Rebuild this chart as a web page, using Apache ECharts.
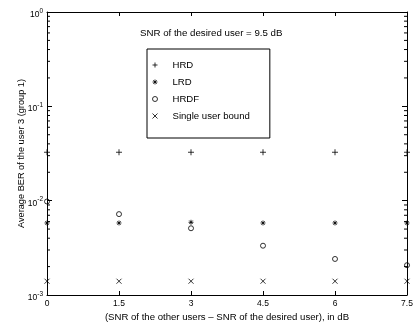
<!DOCTYPE html>
<html>
<head>
<meta charset="utf-8">
<script src="https://cdn.jsdelivr.net/npm/echarts@6/dist/echarts.min.js"></script>
<style>
  html, body { margin: 0; padding: 0; background: #fff; }
  #chart { width: 417px; height: 323px; }
</style>
</head>
<body>
<div id="chart"></div>
<script>
// x positions: SNR difference in dB
const snrDiff = [0, 1.5, 3, 4.5, 6, 7.5];
const hrd = [0.0326, 0.0326, 0.0326, 0.0326, 0.0326, 0.0326];
const lrd = [0.0058, 0.0058, 0.0059, 0.0058, 0.0058, 0.0058];
const hrdf = [0.0098, 0.0072, 0.0051, 0.00333, 0.00241, 0.00207];
const singleUser = [0.0014, 0.0014, 0.0014, 0.0014, 0.0014, 0.0014];
// log minor ticks (2..9 in every decade)
const minorTicks = [0.002, 0.003, 0.004, 0.005, 0.006, 0.007, 0.008, 0.009,
  0.02, 0.03, 0.04, 0.05, 0.06, 0.07, 0.08, 0.09,
  0.2, 0.3, 0.4, 0.5, 0.6, 0.7, 0.8, 0.9];

const font = 'Liberation Sans';
const pair = ys => snrDiff.map((x, i) => [x, ys[i]]);

const markerStyle = {
  color: 'transparent',
  borderColor: '#000',
  borderWidth: 1,
};

const chart = echarts.init(document.getElementById('chart'));

const yLabel = {
  show: true,
  margin: 4,
  padding: [5, 0, 0, 0],
  formatter: v => '{b|10}{s|' + Math.round(Math.log10(v)) + '}',
  rich: {
    b: { fontSize: 8.5, fontFamily: font, color: '#000', verticalAlign: 'middle', lineHeight: 14 },
    s: { fontSize: 6.5, fontFamily: font, color: '#000', verticalAlign: 'top' },
  },
};

const option = {
  animation: false,
  textStyle: { fontFamily: font },
  title: {
    text: 'SNR of the desired user = 9.5 dB',
    left: 140,
    top: 28,
    padding: 0,
    textStyle: { fontSize: 9.7, fontWeight: 'normal', color: '#000', fontFamily: font },
  },
  legend: {
    left: 147,
    top: 49,
    orient: 'vertical',
    padding: [10, 20, 16, 5],
    backgroundColor: '#fff',
    borderColor: '#000',
    borderWidth: 1,
    itemWidth: 5,
    itemHeight: 5,
    itemGap: 5,
    itemStyle: { borderWidth: 1 },
    textStyle: { fontSize: 9.6, fontFamily: font, color: '#000', lineHeight: 12, padding: [0, 0, 0, 10] },
    data: ['HRD', 'LRD', 'HRDF', 'Single user bound'],
  },
  grid: { left: 47, right: 10, top: 12, bottom: 28, containLabel: false, outerBoundsMode: 'none' },
  xAxis: [
    {
      type: 'value', min: 0, max: 7.5, interval: 1.5,
      name: '(SNR of the other users \u2013 SNR of the desired user), in dB',
      nameLocation: 'middle',
      nameGap: 17,
      nameMoveOverlap: false,
      nameTextStyle: { fontSize: 9.6, fontFamily: font, color: '#000' },
      axisLine: { show: true, onZero: false, lineStyle: { color: '#000', width: 1 } },
      axisTick: { show: true, inside: true, length: 4, lineStyle: { color: '#000' } },
      axisLabel: { fontSize: 8.5, fontFamily: font, color: '#000', margin: 4 },
      splitLine: { show: false },
    },
    {
      type: 'value', min: 0, max: 7.5, interval: 1.5, position: 'top',
      axisLine: { show: true, onZero: false, lineStyle: { color: '#000', width: 1 } },
      axisTick: { show: true, inside: true, length: 4, lineStyle: { color: '#000' } },
      axisLabel: { show: false },
      splitLine: { show: false },
    },
  ],
  yAxis: [
    {
      type: 'log', logBase: 10, min: 0.001, max: 1,
      name: 'Average BER of the user 3 (group 1)',
      nameLocation: 'middle',
      nameGap: 21,
      nameMoveOverlap: false,
      nameTextStyle: { fontSize: 9.2, fontFamily: font, color: '#000' },
      axisLine: { show: true, onZero: false, lineStyle: { color: '#000', width: 1 } },
      axisTick: { show: true, inside: true, length: 5, lineStyle: { color: '#000' } },
      axisLabel: yLabel,
      splitLine: { show: false },
    },
    {
      type: 'log', logBase: 10, min: 0.001, max: 1, position: 'right',
      axisLine: { show: true, onZero: false, lineStyle: { color: '#000', width: 1 } },
      axisTick: { show: true, inside: true, length: 5, lineStyle: { color: '#000' } },
      axisLabel: { show: false },
      splitLine: { show: false },
    },
  ],
  series: [
    {
      type: 'custom',
      silent: true,
      clip: false,
      z: 5,
      data: minorTicks.map(v => [0, v]),
      renderItem: (params, api) => {
        const p = api.coord([0, api.value(1)]);
        const cs = params.coordSys;
        const st = { stroke: '#000', lineWidth: 1, fill: null };
        return {
          type: 'group',
          children: [
            { type: 'line', shape: { x1: cs.x, y1: p[1], x2: cs.x + 3, y2: p[1] }, style: st },
            { type: 'line', shape: { x1: cs.x + cs.width, y1: p[1], x2: cs.x + cs.width - 3, y2: p[1] }, style: st },
          ],
        };
      },
    },
    {
      name: 'HRD', type: 'scatter', clip: false,
      symbol: 'path://M5,0L5,10M0,5L10,5', symbolSize: 6, symbolKeepAspect: true,
      itemStyle: markerStyle, data: pair(hrd),
    },
    {
      name: 'LRD', type: 'scatter', clip: false,
      symbol: 'path://M5,0L5,10M0,5L10,5M1.5,1.5L8.5,8.5M8.5,1.5L1.5,8.5', symbolSize: 5, symbolKeepAspect: true,
      itemStyle: markerStyle, data: pair(lrd),
    },
    {
      name: 'HRDF', type: 'scatter', clip: false,
      symbol: 'circle', symbolSize: 5,
      itemStyle: markerStyle, data: pair(hrdf),
    },
    {
      name: 'Single user bound', type: 'scatter', clip: false,
      symbol: 'path://M0,0L10,10M10,0L0,10', symbolSize: 5, symbolKeepAspect: true,
      itemStyle: markerStyle, data: pair(singleUser),
    },
  ],
};

chart.setOption(option);
</script>
</body>
</html>
